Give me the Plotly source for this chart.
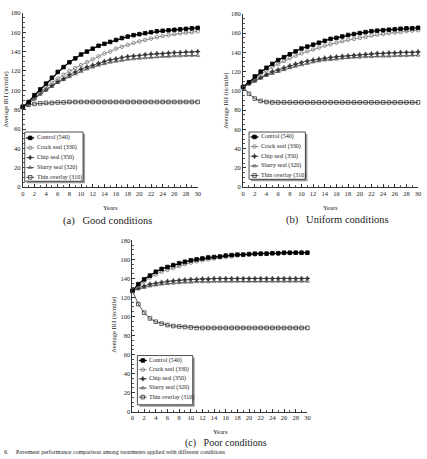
import plotly.graph_objects as go

W, H = 427, 459
years = list(range(0, 31))

series_names = ["Control (540)", "Crack seal (330)", "Chip seal (350)", "Slurry seal (320)", "Thin overlay (310)"]

# Panel (a) Good conditions
good_control = [83, 88, 95, 101, 107, 113, 119, 124, 129, 133, 137, 140, 143, 146, 148, 150, 152, 154, 155.5, 157, 158, 159, 160, 161, 161.5, 162, 162.5, 163, 163.5, 164, 164.5]
good_crack = [83, 87, 93, 98, 103, 108, 112, 116, 120, 123, 126, 129, 132, 135, 138, 140, 143, 145, 147, 149, 150.5, 152, 153.5, 155, 156, 157, 158, 159, 159.5, 160, 161]
good_chip = [83, 86, 92, 97, 101, 105, 109, 112, 116, 119, 122, 124, 126, 128, 130, 131.5, 132.5, 134, 135, 135.5, 136, 137, 137.5, 138, 138, 138.5, 139, 139, 139.5, 139.5, 140]
good_slurry = [83, 86, 91, 96, 100, 104, 108, 111, 114, 117, 119.5, 122, 124, 126, 127.5, 129, 130, 131, 132, 132.5, 133, 133.5, 134, 134.5, 135, 135, 135.5, 135.5, 136, 136, 136]
good_thin = [83, 85, 86, 86.5, 87, 87, 87.5, 87.5, 88, 88, 88, 88, 88, 88, 88, 88, 88, 88, 88, 88, 88, 88, 88, 88, 88, 88, 88, 88, 88, 88, 88]

# Panel (b) Uniform conditions
uni_control = [104, 109, 115, 120, 124, 128, 132, 135, 138, 141, 144, 146, 148, 150, 152, 154, 155, 156.5, 158, 159, 160, 161, 162, 162.5, 163, 163.5, 164, 164.5, 165, 165, 165.5]
uni_crack = [104, 108, 113, 117, 121, 125, 128, 131, 134, 136.5, 139, 141, 143, 145, 147, 148.5, 150, 151.5, 153, 154, 155, 156, 157.5, 158.5, 159, 160, 160.5, 161, 162, 162.5, 163]
uni_chip = [104, 108, 111, 114, 117, 120, 122, 124, 126, 128, 129.5, 131, 132, 133, 134, 135, 135.5, 136, 136.5, 137, 137.5, 138, 138.5, 139, 139, 139.5, 139.5, 140, 140, 140, 140.5]
uni_slurry = [104, 107, 110, 113, 116, 118, 120, 122, 124, 125.5, 127, 128.5, 130, 131, 132, 132.5, 133, 134, 134.5, 135, 135, 135.5, 135.5, 136, 136, 136, 136.5, 136.5, 136.5, 137, 137]
uni_thin = [104, 97, 92, 89.5, 88.5, 88, 88, 88, 88, 88, 88, 88, 88, 88, 88, 88, 88, 88, 88, 88, 88, 88, 88, 88, 88, 88, 88, 88, 88, 88, 88]

# Panel (c) Poor conditions
poor_control = [127, 134, 139, 143, 147, 150, 152, 154, 156, 157.5, 159, 160, 161, 162, 162.5, 163, 164, 164.5, 165, 165, 165.5, 166, 166, 166, 166.5, 166.5, 167, 167, 167, 167, 167]
poor_crack = [127, 132, 137, 141, 144, 147, 149, 151, 153, 155, 156.5, 158, 159, 160, 161, 162, 162.5, 163, 164, 164.5, 165, 165, 165.5, 166, 166, 166, 166.5, 166.5, 167, 167, 167]
poor_chip = [127, 130, 132, 134, 135, 136, 137, 137.5, 138, 138.5, 139, 139, 139.5, 139.5, 140, 140, 140, 140, 140, 140, 140, 140, 140, 140, 140, 140, 140, 140, 140, 140, 140]
poor_slurry = [127, 129, 130.5, 132, 133, 134, 134.5, 135, 135.5, 136, 136, 136.5, 136.5, 136.5, 137, 137, 137, 137, 137, 137, 137, 137, 137, 137, 137, 137, 137, 137, 137, 137, 137]
poor_thin = [127, 113, 104, 98, 94.5, 92.5, 91, 90, 89.5, 89, 88.5, 88, 88, 88, 88, 88, 88, 88, 88, 88, 88, 88, 88, 88, 88, 88, 88, 88, 88, 88, 88]

panels = [
    [good_control, good_crack, good_chip, good_slurry, good_thin],
    [uni_control, uni_crack, uni_chip, uni_slurry, uni_thin],
    [poor_control, poor_crack, poor_chip, poor_slurry, poor_thin],
]
captions = ["(a)   Good conditions", "(b)   Uniform conditions", "(c)   Poor conditions"]
y_ticks = [0, 20, 40, 60, 80, 100, 120, 140, 160, 180]
x_ticks = list(range(0, 31, 2))

FONT = "Liberation Serif, Times New Roman, serif"

styles = [
    dict(line=dict(color="#000000", width=1.3), marker=dict(symbol="square", size=3.6, color="#000000", line=dict(color="#000000", width=0.8))),
    dict(line=dict(color="#8a8a8a", width=0.9), marker=dict(symbol="circle-open", size=3.6, color="#777777", line=dict(color="#777777", width=0.8))),
    dict(line=dict(color="#444444", width=0.9), marker=dict(symbol="star-diamond", size=3.6, color="#333333", line=dict(color="#333333", width=0.4))),
    dict(line=dict(color="#555555", width=0.9), marker=dict(symbol="triangle-up-open", size=3.6, color="#555555", line=dict(color="#555555", width=0.8))),
    dict(line=dict(color="#444444", width=0.9), marker=dict(symbol="square-open", size=3.6, color="#333333", line=dict(color="#333333", width=0.8))),
]

# pixel geometry of the three plot areas: (x0, x1, ytop, ybottom)
geom = [(21, 198, 9, 186), (244, 421, 10, 186), (132, 309, 240, 414)]

fig = go.Figure()

layout = dict(
    width=W, height=H, autosize=False,
    margin=dict(l=0, r=0, t=0, b=0),
    paper_bgcolor="white", plot_bgcolor="rgba(0,0,0,0)",
    showlegend=False,
    font=dict(family=FONT, color="#222222"),
)

for p, (data, g) in enumerate(zip(panels, geom)):
    xa = "xaxis" if p == 0 else f"xaxis{p+1}"
    ya = "yaxis" if p == 0 else f"yaxis{p+1}"
    xr = "x" if p == 0 else f"x{p+1}"
    yr = "y" if p == 0 else f"y{p+1}"
    x0, x1, yt, yb = g
    layout[xa] = dict(
        domain=[x0 / W, x1 / W], range=[0, 30], anchor=yr,
        tickvals=x_ticks, ticks="inside", ticklen=3, tickwidth=0.8, tickcolor="#333",
        minor=dict(dtick=1, ticks="inside", ticklen=2, tickcolor="#555", tickwidth=0.6),
        showline=True, linecolor="#333333", linewidth=1, showgrid=False, zeroline=False,
        tickfont=dict(family=FONT, size=6.5, color="#222"), fixedrange=True,
    )
    layout[ya] = dict(
        domain=[1 - yb / H, 1 - yt / H], range=[0, 180], anchor=xr,
        tickvals=y_ticks, ticks="inside", ticklen=3, tickwidth=0.8, tickcolor="#333",
        minor=dict(dtick=5, ticks="inside", ticklen=2, tickcolor="#555", tickwidth=0.6),
        showline=True, linecolor="#333333", linewidth=1, showgrid=False, zeroline=False,
        tickfont=dict(family=FONT, size=6.5, color="#222"), fixedrange=True,
    )
    for i in [4, 3, 2, 1, 0]:
        fig.add_trace(go.Scatter(
            x=years, y=data[i], mode="lines+markers", name=series_names[i],
            xaxis=xr, yaxis=yr, cliponaxis=False, **styles[i]))

# Overlay axis in pixel coordinates for legend boxes
layout["xaxis7"] = dict(domain=[0, 1], range=[0, W], visible=False, fixedrange=True, anchor="y7")
layout["yaxis7"] = dict(domain=[0, 1], range=[H, 0], visible=False, fixedrange=True, anchor="x7")

legend_boxes = [  # (x0, y0, x1, y1, first item y, item step)
    (23, 130, 82, 180, 136, 10),
    (250, 130, 307, 178, 135, 9.8),
    (137, 357, 193, 407, 362, 9.3),
]
shapes = []
annotations = []
for (bx0, by0, bx1, by1, iy0, step) in legend_boxes:
    shapes.append(dict(type="rect", xref="x7", yref="y7", x0=bx0 + 2, y0=by0 + 2, x1=bx1 + 2, y1=by1 + 2,
                       fillcolor="#9a9a9a", line=dict(width=0), layer="below"))
    shapes.append(dict(type="rect", xref="x7", yref="y7", x0=bx0, y0=by0, x1=bx1, y1=by1,
                       fillcolor="white", line=dict(color="#222", width=0.8), layer="below"))
    for i in range(5):
        yy = iy0 + i * step
        st = styles[i]
        fig.add_trace(go.Scatter(
            x=[bx0 + 1.5, bx0 + 5.5, bx0 + 9.5], y=[yy, yy, yy], mode="lines+markers",
            xaxis="x7", yaxis="y7", line=st["line"],
            marker=dict(symbol=st["marker"]["symbol"], size=st["marker"]["size"], color=st["marker"]["color"],
                        line=st["marker"]["line"], opacity=[0, 1, 0]),
            hoverinfo="skip"))
        annotations.append(dict(x=bx0 + 10, y=yy, xref="x7", yref="y7", text=series_names[i],
                                showarrow=False, xanchor="left", yanchor="middle",
                                font=dict(family=FONT, size=6, color="#222")))

def px(x, y, text, size, angle=0, color="#222", xanchor="center", yanchor="middle"):
    return dict(x=x / W, y=1 - y / H, xref="paper", yref="paper", text=text, showarrow=False, textangle=angle,
                xanchor=xanchor, yanchor=yanchor, font=dict(family=FONT, size=size, color=color))

annotations += [
    px(110, 207, "Years", 6.5), px(332, 207, "Years", 6.5), px(221, 434.5, "Years", 6.5),
    px(4, 97, "Average IRI (in/mile)", 6.5, -90), px(226, 98, "Average IRI (in/mile)", 6.5, -90),
    px(113, 326, "Average IRI (in/mile)", 6.5, -90),
    px(107, 220, captions[0], 10.5), px(339, 219, captions[1], 10.5), px(227, 445.5, captions[2], 10),
    dict(x=1 / W, y=0, xref="paper", yref="paper", xanchor="left", yanchor="bottom", showarrow=False,
         text="6.     Pavement performance comparison among treatments applied with different conditions",
         borderpad=0, font=dict(family=FONT, size=6, color="#222")),
]

layout["shapes"] = shapes
layout["annotations"] = annotations
fig.update_layout(**layout)
fig.write_html("out.html")
